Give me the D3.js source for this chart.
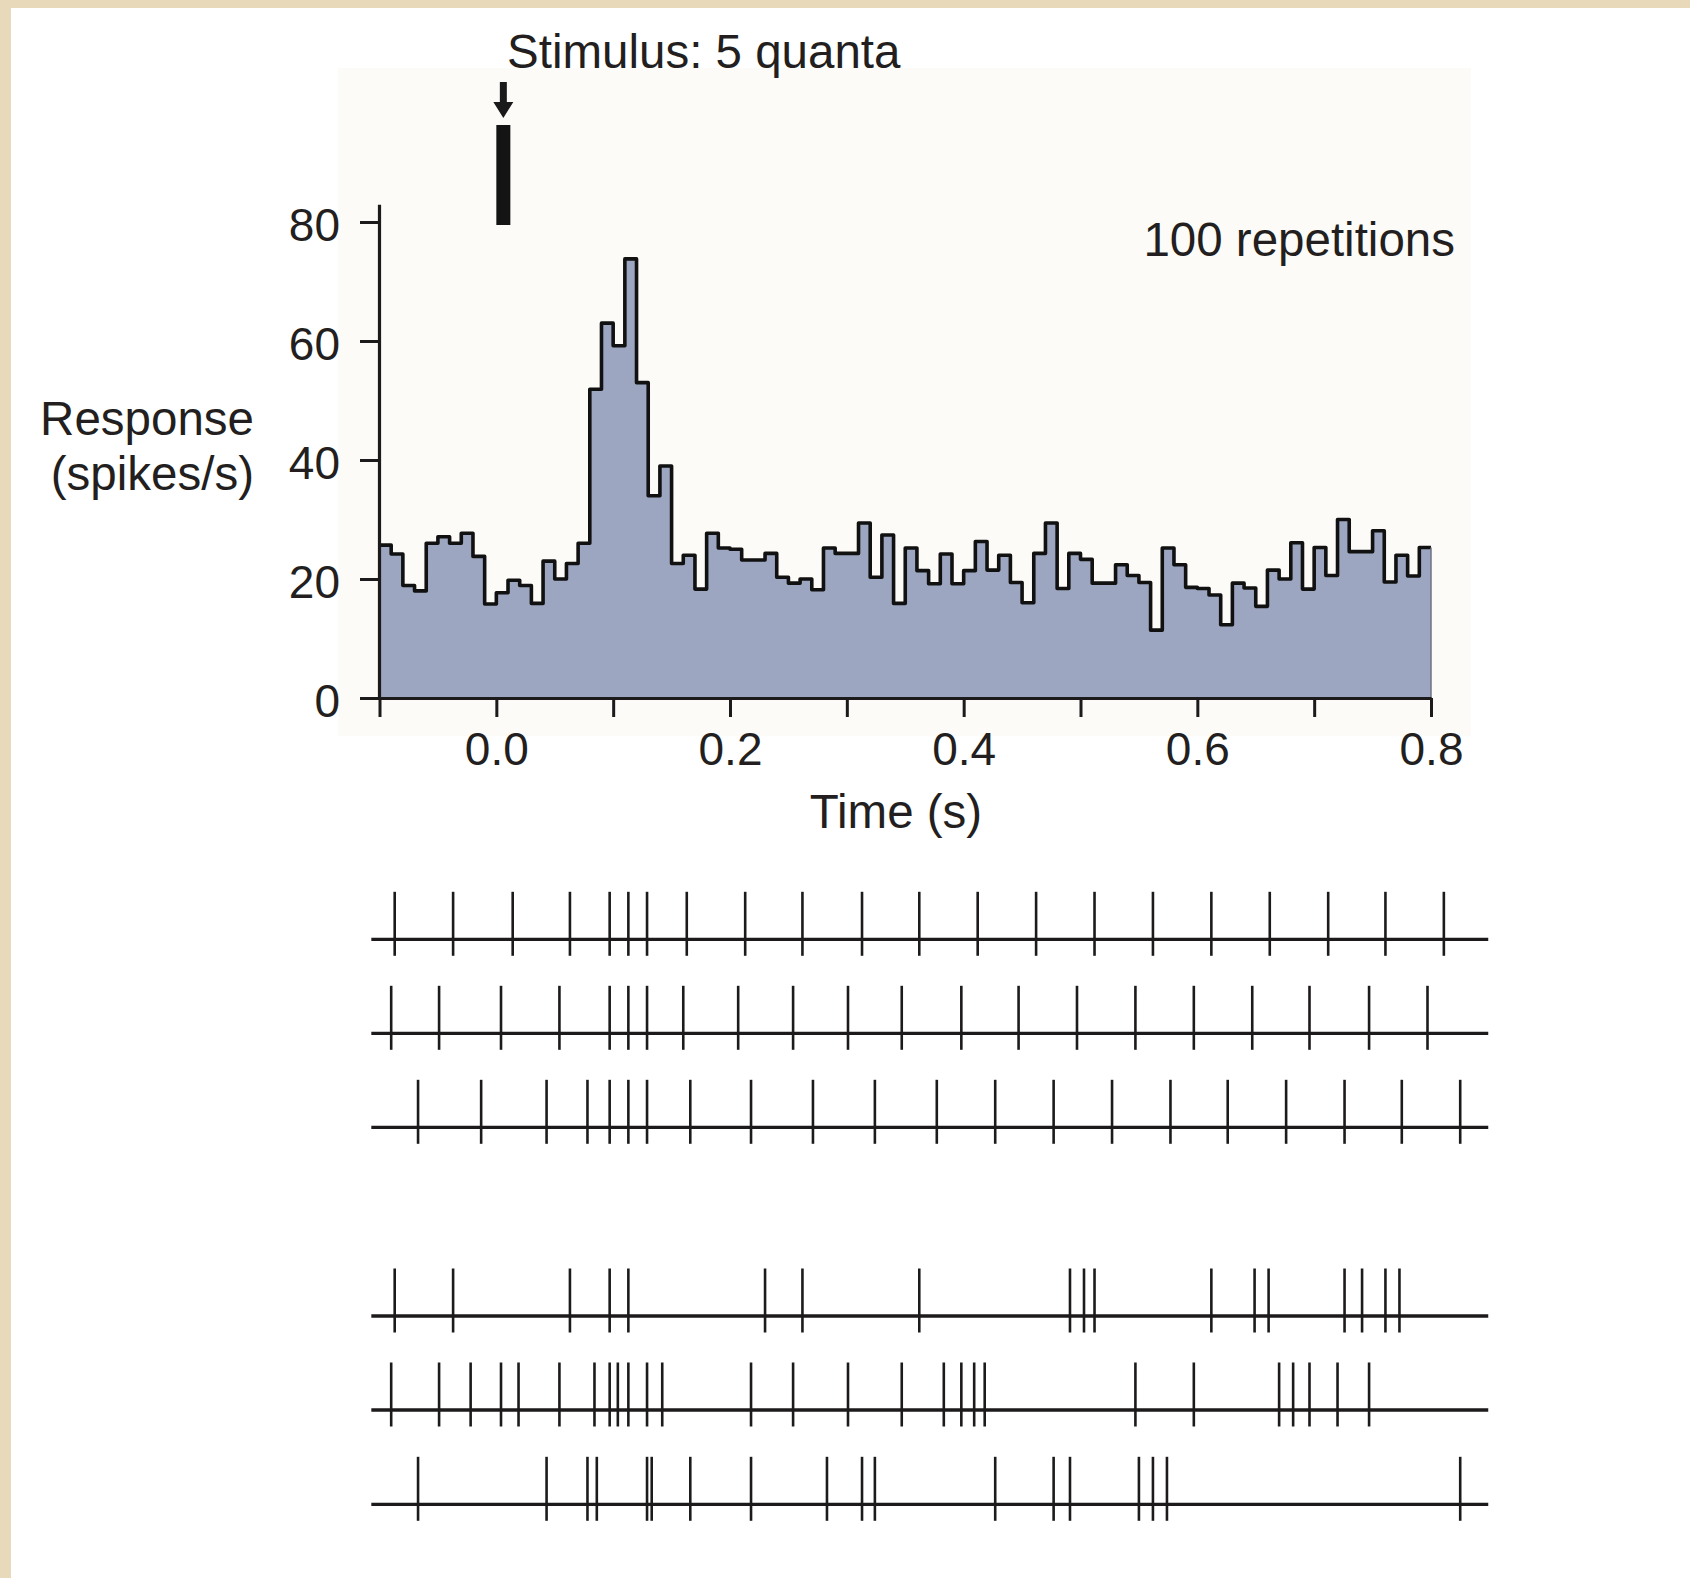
<!DOCTYPE html>
<html>
<head>
<meta charset="utf-8">
<script src="https://cdn.jsdelivr.net/npm/d3@7"></script>
<style>
  html, body { margin: 0; padding: 0; background: #ffffff; }
  svg { display: block; }
  text { font-family: "Liberation Sans", Arial, Helvetica, sans-serif; fill: #231f20; }
</style>
</head>
<body>
<svg id="chart" width="1690" height="1578"></svg>
<script>
// ---------------- DATA ----------------
// PSTH: bins of 10 ms starting at -0.1 s
const binStart = -0.1;
const binWidth = 0.01;
const rates = [
  25.7, 24.2, 18.9, 18.0, 26.0, 27.1, 26.0, 27.7, 23.8, 15.8,
  17.7, 19.8, 18.9, 15.9, 23.0, 20.0, 22.6, 26.0, 51.9, 63.0,
  59.2, 73.8, 53.0, 34.0, 39.0, 22.6, 24.0, 18.3, 27.7, 25.2,
  25.0, 23.2, 23.2, 24.3, 20.3, 19.3, 20.0, 18.2, 25.2, 24.3,
  24.3, 29.4, 20.3, 27.4, 15.9, 25.2, 21.4, 19.2, 24.2, 19.2,
  21.4, 26.3, 21.5, 24.0, 19.4, 16.0, 24.3, 29.4, 18.4, 24.3,
  23.3, 19.3, 19.3, 22.4, 20.6, 19.4, 11.4, 25.2, 22.4, 18.6,
  18.4, 17.3, 12.3, 19.3, 18.5, 15.4, 21.5, 20.0, 26.1, 18.3,
  25.3, 20.6, 30.0, 24.6, 24.6, 28.1, 19.5, 24.0, 20.5, 25.3
];
const xDomain = [-0.1, 0.8];
const yDomain = [0, 80];
const xTicks = [-0.1, 0.0, 0.1, 0.2, 0.3, 0.4, 0.5, 0.6, 0.7, 0.8];
const xTickLabels = ["", "0.0", "", "0.2", "", "0.4", "", "0.6", "", "0.8"];
const yTicks = [0, 20, 40, 60, 80];
const yAxisTop = 82.9;
const stimulusOnset = 0.0;
const stimulusDuration = 0.012;

const titleText = "Stimulus: 5 quanta";
const repText = "100 repetitions";
const yLabelLines = ["Response", "(spikes/s)"];
const xLabelText = "Time (s)";

// Raster: spike times (s), three regular trains and three irregular trains
const rasterExtent = [-0.107, 0.849];
const spikesRow1 = [-0.087, -0.037, 0.014, 0.063, 0.097, 0.113, 0.129, 0.163, 0.213, 0.262, 0.313, 0.362, 0.412, 0.462, 0.512, 0.562, 0.612, 0.662, 0.712, 0.761, 0.811];
const spikesRow2 = [-0.090, -0.049, 0.004, 0.054, 0.097, 0.113, 0.129, 0.160, 0.207, 0.254, 0.301, 0.347, 0.398, 0.447, 0.497, 0.547, 0.597, 0.647, 0.696, 0.747, 0.797];
const spikesRow3 = [-0.067, -0.013, 0.043, 0.078, 0.097, 0.113, 0.129, 0.166, 0.218, 0.271, 0.324, 0.377, 0.427, 0.477, 0.527, 0.577, 0.626, 0.676, 0.726, 0.775, 0.825];
const spikesRow4 = [-0.087, -0.037, 0.063, 0.097, 0.113, 0.230, 0.262, 0.362, 0.491, 0.503, 0.512, 0.612, 0.649, 0.661, 0.726, 0.741, 0.761, 0.773];
const spikesRow5 = [-0.090, -0.049, -0.022, 0.004, 0.019, 0.054, 0.084, 0.097, 0.104, 0.113, 0.129, 0.142, 0.218, 0.254, 0.301, 0.347, 0.383, 0.398, 0.409, 0.418, 0.547, 0.597, 0.670, 0.682, 0.696, 0.720, 0.747];
const spikesRow6 = [-0.067, 0.043, 0.078, 0.086, 0.129, 0.133, 0.166, 0.218, 0.283, 0.313, 0.324, 0.427, 0.477, 0.491, 0.550, 0.562, 0.574, 0.825];
const rasterRows = [spikesRow1, spikesRow2, spikesRow3, spikesRow4, spikesRow5, spikesRow6];

// ---------------- LAYOUT ----------------
const svg = d3.select("#chart");
const W = 1690, H = 1578;
const dark = "#1c1a1b";
const fontFam = "'Liberation Sans', Arial, Helvetica, sans-serif";

// background + scanned-paper frame
svg.append("rect").attr("width", W).attr("height", H).attr("fill", "#ffffff");
svg.append("rect").attr("x", 0).attr("y", 0).attr("width", W).attr("height", 8).attr("fill", "#e8d9bb");
svg.append("rect").attr("x", 0).attr("y", 0).attr("width", 11).attr("height", H).attr("fill", "#e8d9bb");
svg.append("rect").attr("x", 338).attr("y", 68).attr("width", 1133).attr("height", 668).attr("fill", "#fcfbf8");

const x = d3.scaleLinear().domain(xDomain).range([379.5, 1431]);
const y = d3.scaleLinear().domain(yDomain).range([698, 222]);

// histogram
const pts = rates.map((v, i) => [binStart + i * binWidth, v]);
pts.push([xDomain[1], rates[rates.length - 1]]);

const area = d3.area()
  .x(d => x(d[0])).y0(y(0)).y1(d => y(d[1]))
  .curve(d3.curveStepAfter);
svg.append("path").datum(pts).attr("d", area).attr("fill", "#9ca6c1");

const line = d3.line().x(d => x(d[0])).y(d => y(d[1])).curve(d3.curveStepAfter);
svg.append("path").datum(pts).attr("d", line)
  .attr("fill", "none").attr("stroke", "#111").attr("stroke-width", 3.6)
  .attr("stroke-linejoin", "round");

// right edge thin gray line
const last = rates[rates.length - 1];
svg.append("line")
  .attr("x1", x(xDomain[1])).attr("x2", x(xDomain[1]))
  .attr("y1", y(last)).attr("y2", y(0))
  .attr("stroke", "#6f7280").attr("stroke-width", 1.5);

// x axis
const xAxis = d3.axisBottom(x).tickValues(xTicks).tickSize(19).tickSizeOuter(0)
  .tickFormat((d, i) => xTickLabels[i]);
const gx = svg.append("g").attr("transform", `translate(0,${y(0)})`).call(xAxis);
gx.select(".domain").attr("stroke", dark).attr("stroke-width", 3.2);
gx.selectAll(".tick line").attr("stroke", dark).attr("stroke-width", 3);
gx.selectAll(".tick text").attr("font-size", 46).attr("dy", "0.95em").attr("y", 23)
  .attr("fill", "#231f20").attr("font-family", fontFam);

// y axis
const yAxis = d3.axisLeft(y).tickValues(yTicks).tickSize(19.5).tickSizeOuter(0).tickPadding(20);
const gy = svg.append("g").attr("transform", `translate(${x(xDomain[0])},0)`).call(yAxis);
gy.select(".domain").remove();
gy.selectAll(".tick line").attr("stroke", dark).attr("stroke-width", 3);
gy.selectAll(".tick text").attr("font-size", 46).attr("dy", "0.4em")
  .attr("fill", "#231f20").attr("font-family", fontFam);
svg.append("line")
  .attr("x1", x(xDomain[0])).attr("x2", x(xDomain[0]))
  .attr("y1", y(0) + 1.5).attr("y2", y(yAxisTop))
  .attr("stroke", dark).attr("stroke-width", 3.2);

// stimulus marker
const sx0 = x(stimulusOnset), sx1 = x(stimulusOnset + stimulusDuration);
const sxc = (sx0 + sx1) / 2;
svg.append("rect").attr("x", sx0).attr("y", 125).attr("width", sx1 - sx0).attr("height", 100)
  .attr("fill", "#141414");
svg.append("path")
  .attr("d", `M${sxc - 3.5},82 L${sxc + 3.5},82 L${sxc + 3.5},102 L${sxc + 10},102 L${sxc},118 L${sxc - 10},102 L${sxc - 3.5},102 Z`)
  .attr("fill", "#1a1a1a");

// texts
svg.append("text").attr("x", 507).attr("y", 68).attr("font-size", 47.5).text(titleText);
svg.append("text").attr("x", 1455).attr("y", 256).attr("font-size", 47.5)
  .attr("text-anchor", "end").text(repText);
svg.append("text").attr("x", 896).attr("y", 828).attr("font-size", 47.5)
  .attr("text-anchor", "middle").text(xLabelText);
yLabelLines.forEach((t, i) => {
  svg.append("text").attr("x", 254).attr("y", 435 + i * 55).attr("font-size", 47.5)
    .attr("text-anchor", "end").text(t);
});

// raster
const rowY = [939.3, 1033.3, 1127.3, 1316, 1410, 1504.3];
const gr = svg.append("g");
rasterRows.forEach((spikes, r) => {
  const cy = rowY[r];
  gr.append("line")
    .attr("x1", x(rasterExtent[0])).attr("x2", x(rasterExtent[1]))
    .attr("y1", cy).attr("y2", cy)
    .attr("stroke", dark).attr("stroke-width", 3.3);
  gr.selectAll(null).data(spikes).enter().append("line")
    .attr("x1", d => x(d)).attr("x2", d => x(d))
    .attr("y1", cy - 47.5).attr("y2", cy + 16.5)
    .attr("stroke", dark).attr("stroke-width", 2.6);
});
</script>
</body>
</html>
